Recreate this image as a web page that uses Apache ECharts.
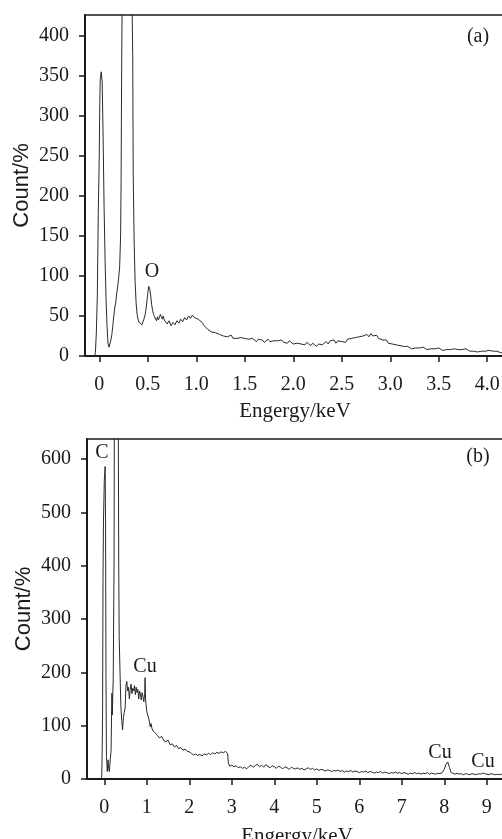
<!DOCTYPE html>
<html>
<head>
<meta charset="utf-8">
<script src="https://cdn.jsdelivr.net/npm/echarts@6/dist/echarts.min.js"></script>
<style>
html,body{margin:0;padding:0;background:#fff;}
#c{width:502px;height:839px;}
</style>
</head>
<body>
<div id="c"></div>
<script>
// ---- Panel (a): energy (keV), count ----
var spectrumA = [
[-0.05,0],[-0.04,4],[-0.03,30],[-0.02,75],[-0.01,180],[0.00,250],[0.005,312],[0.01,345],[0.02,355],[0.03,343],
[0.04,272],[0.05,185],[0.06,120],[0.07,70],[0.08,38],[0.09,16],[0.10,11],[0.11,12],[0.12,20],[0.13,27],
[0.14,38],[0.15,50],[0.16,60],[0.17,67],[0.18,78],[0.19,87],[0.20,98],[0.21,111],[0.22,150],[0.225,215],
[0.23,340],[0.24,520],[0.26,640],[0.29,660],[0.32,600],[0.335,470],[0.345,375],[0.35,228],[0.36,140],[0.37,92],
[0.38,66],[0.39,52],[0.40,46],[0.41,42],[0.42,40],[0.43,42],[0.44,39],[0.45,41],[0.46,46],[0.47,50],
[0.48,57],[0.49,67],[0.50,78],[0.51,87],[0.52,84],[0.53,76],[0.54,64],[0.55,57],[0.56,52],[0.57,49],
[0.58,47],[0.59,44],[0.60,49],[0.61,45],[0.62,47],[0.63,52],[0.64,49],[0.65,46],[0.66,50],[0.67,45],
[0.68,43],[0.70,40],[0.72,44],[0.74,38],[0.76,42],[0.78,39],[0.80,44],[0.82,41],[0.84,46],[0.86,43],
[0.88,48],[0.90,45],[0.92,50],[0.94,47],[0.96,51],[0.98,48],[1.00,50],[1.02,46],[1.04,47],[1.06,42],
[1.08,38],[1.10,36],[1.12,33],[1.14,35],[1.16,30],[1.18,32],[1.20,29],[1.22,30],[1.24,27],[1.26,29],
[1.28,25],[1.30,27],[1.32,24],[1.34,23],[1.36,26],[1.38,22],[1.40,24],[1.42,22],[1.44,20],[1.46,23],
[1.48,21],[1.50,22],[1.52,24],[1.54,21],[1.56,19],[1.58,22],[1.60,20],[1.62,18],[1.64,21],[1.66,19],
[1.68,20],[1.70,17],[1.72,19],[1.74,21],[1.76,18],[1.78,20],[1.80,19],[1.82,17],[1.84,19],[1.86,18],
[1.88,20],[1.90,17],[1.92,18],[1.94,16],[1.96,19],[1.98,17],[2.00,15],[2.02,17],[2.04,16],[2.06,18],
[2.08,15],[2.10,16],[2.12,14],[2.14,17],[2.16,15],[2.18,13],[2.20,16],[2.22,14],[2.24,12],[2.26,15],
[2.28,17],[2.30,14],[2.32,16],[2.34,18],[2.36,15],[2.38,19],[2.40,17],[2.42,20],[2.44,16],[2.46,19],
[2.48,21],[2.50,18],[2.52,20],[2.54,17],[2.56,21],[2.58,19],[2.60,22],[2.62,20],[2.64,23],[2.66,21],
[2.68,24],[2.70,22],[2.72,25],[2.74,23],[2.76,27],[2.78,24],[2.80,28],[2.82,25],[2.84,23],[2.86,26],
[2.88,22],[2.90,24],[2.92,20],[2.94,18],[2.96,20],[2.98,16],[3.00,14],[3.02,15],[3.04,13],[3.06,14],
[3.08,12],[3.10,13],[3.12,11],[3.14,12],[3.16,10],[3.18,12],[3.20,11],[3.22,9],[3.24,11],[3.26,10],
[3.28,12],[3.30,10],[3.32,9],[3.34,11],[3.36,10],[3.38,8],[3.40,10],[3.42,9],[3.44,11],[3.46,9],
[3.48,8],[3.50,10],[3.52,9],[3.54,7],[3.56,9],[3.58,8],[3.60,10],[3.62,8],[3.64,7],[3.66,9],
[3.68,7],[3.70,8],[3.72,6],[3.74,8],[3.76,7],[3.78,9],[3.80,7],[3.82,6],[3.84,8],[3.86,6],
[3.88,7],[3.90,5],[3.92,7],[3.94,6],[3.96,8],[3.98,6],[4.00,5],[4.02,7],[4.04,5],[4.06,6],
[4.08,4],[4.10,6],[4.12,5],[4.14,4],[4.16,5],[4.18,4]
];

// ---- Panel (b): energy (keV), count ----
var spectrumB = [
[-0.08,0],[-0.07,2],[-0.06,4],[-0.05,51],[-0.04,130],[-0.03,380],[-0.02,480],[0.00,560],[0.02,586],[0.03,480],
[0.04,186],[0.05,42],[0.06,30],[0.07,14],[0.09,36],[0.10,20],[0.12,14],[0.14,36],[0.16,54],[0.17,117],
[0.18,161],[0.19,120],[0.20,161],[0.21,186],[0.22,300],[0.23,405],[0.24,800],[0.28,820],[0.32,800],[0.33,650],
[0.34,400],[0.35,267],[0.37,200],[0.39,136],[0.41,110],[0.43,92],[0.45,115],[0.47,125],[0.49,133],[0.51,176],
[0.53,183],[0.55,165],[0.57,172],[0.59,150],[0.61,168],[0.63,178],[0.65,160],[0.67,170],[0.69,165],[0.71,175],
[0.73,158],[0.75,172],[0.77,162],[0.79,168],[0.81,150],[0.83,165],[0.85,160],[0.87,148],[0.89,162],[0.91,155],
[0.93,145],[0.95,160],[0.96,190],[0.97,150],[0.99,148],[1.00,126],[1.02,124],[1.05,112],[1.08,98],[1.10,104],
[1.12,95],[1.15,90],[1.18,93],[1.20,86],[1.25,82],[1.30,77],[1.35,80],[1.40,72],[1.45,70],[1.50,73],
[1.55,64],[1.60,66],[1.65,60],[1.70,63],[1.75,57],[1.80,59],[1.85,54],[1.90,56],[1.95,52],[2.00,51],
[2.05,48],[2.10,45],[2.15,47],[2.20,44],[2.25,46],[2.30,43],[2.35,47],[2.40,45],[2.45,48],[2.50,46],
[2.55,49],[2.60,47],[2.65,50],[2.70,48],[2.75,51],[2.80,49],[2.85,52],[2.90,48],[2.92,30],[2.95,24],
[3.00,26],[3.05,23],[3.10,25],[3.15,21],[3.20,23],[3.25,20],[3.30,22],[3.35,19],[3.40,23],[3.45,26],
[3.50,22],[3.55,25],[3.60,28],[3.65,23],[3.70,26],[3.75,22],[3.80,27],[3.85,24],[3.90,21],[3.95,25],
[4.00,23],[4.05,20],[4.10,24],[4.15,22],[4.20,19],[4.25,23],[4.30,21],[4.35,18],[4.40,22],[4.45,20],
[4.50,19],[4.55,21],[4.60,18],[4.65,20],[4.70,17],[4.75,19],[4.80,21],[4.85,18],[4.90,20],[4.95,17],
[5.00,19],[5.05,16],[5.10,18],[5.15,17],[5.20,15],[5.25,17],[5.30,16],[5.35,14],[5.40,16],[5.45,15],
[5.50,17],[5.55,14],[5.60,16],[5.65,13],[5.70,15],[5.75,14],[5.80,16],[5.85,13],[5.90,15],[5.95,14],
[6.00,12],[6.05,14],[6.10,13],[6.15,15],[6.20,12],[6.25,14],[6.30,13],[6.35,11],[6.40,13],[6.45,12],
[6.50,14],[6.55,11],[6.60,13],[6.65,12],[6.70,10],[6.75,12],[6.80,11],[6.85,13],[6.90,11],[6.95,12],
[7.00,10],[7.05,12],[7.10,11],[7.15,9],[7.20,11],[7.25,10],[7.30,12],[7.35,10],[7.40,11],[7.45,9],
[7.50,11],[7.55,10],[7.60,12],[7.65,9],[7.70,11],[7.75,10],[7.80,9],[7.85,11],[7.90,10],[7.95,12],
[8.00,18],[8.04,28],[8.08,32],[8.12,22],[8.16,12],[8.20,10],[8.25,9],[8.30,11],[8.35,9],[8.40,10],
[8.45,8],[8.50,10],[8.55,9],[8.60,8],[8.65,10],[8.70,9],[8.75,8],[8.80,10],[8.85,9],[8.90,11],
[8.95,10],[9.00,9],[9.05,8],[9.10,10],[9.15,9],[9.20,8],[9.25,9],[9.30,8],[9.35,9],[9.40,8],[9.45,8]
];

var ticksXA = [0, 0.5, 1.0, 1.5, 2.0, 2.5, 3.0, 3.5, 4.0];
var ticksYA = [0, 50, 100, 150, 200, 250, 300, 350, 400];
var ticksXB = [0, 1, 2, 3, 4, 5, 6, 7, 8, 9];
var ticksYB = [0, 100, 200, 300, 400, 500, 600];

var SERIF = "'Liberation Serif','Times New Roman',serif";
var SANS = "'Liberation Sans',Arial,sans-serif";
var INK = '#1a1a1a';

function xAxisCfg(gridIndex, min, max, ticks, decimals, gap) {
  return {
    type: 'value', gridIndex: gridIndex, min: min, max: max,
    name: 'Engergy/keV', nameLocation: 'middle', nameGap: gap,
    nameTextStyle: {fontFamily: SERIF, fontSize: 21, color: INK},
    axisLine: {show: true, onZero: false, lineStyle: {color: INK, width: 2}},
    axisTick: {show: true, inside: false, length: 6, customValues: ticks, lineStyle: {color: INK, width: 1.5}},
    axisLabel: {show: true, customValues: ticks, margin: 19, fontFamily: SERIF, fontSize: 20, color: INK,
      formatter: function (v) { return decimals ? v.toFixed(1).replace(/^0\.0$/, '0') : String(v); }},
    splitLine: {show: false}
  };
}
function yAxisCfg(gridIndex, max, ticks) {
  return {
    type: 'value', gridIndex: gridIndex, min: 0, max: max,
    name: 'Count/%', nameLocation: 'middle', nameGap: 52, nameRotate: 90, nameMoveOverlap: false,
    nameTextStyle: {fontFamily: SANS, fontSize: 22, color: INK},
    axisLine: {show: true, onZero: false, lineStyle: {color: INK, width: 2}},
    axisTick: {show: true, inside: false, length: 6, customValues: ticks, lineStyle: {color: INK, width: 1.5}},
    axisLabel: {show: true, customValues: ticks, margin: 16, fontFamily: SERIF, fontSize: 20, color: INK},
    splitLine: {show: false}
  };
}

var chart = echarts.init(document.getElementById('c'), null, {renderer: 'canvas'});
chart.setOption({
  animation: false,
  backgroundColor: '#fff',
  grid: [
    {left: 85, top: 15, width: 420, height: 341, show: true, borderColor: INK, borderWidth: 1.5,
      backgroundColor: 'transparent', outerBoundsMode: 'none', containLabel: false},
    {left: 87, top: 439, width: 420, height: 340, show: true, borderColor: INK, borderWidth: 1.5,
      backgroundColor: 'transparent', outerBoundsMode: 'none', containLabel: false}
  ],
  xAxis: [
    xAxisCfg(0, -0.147, 4.183, ticksXA, true, 45),
    xAxisCfg(1, -0.407, 9.475, ticksXB, false, 47)
  ],
  yAxis: [
    yAxisCfg(0, 426, ticksYA),
    yAxisCfg(1, 637.5, ticksYB)
  ],
  series: [
    {type: 'line', xAxisIndex: 0, yAxisIndex: 0, data: spectrumA, showSymbol: false, clip: true,
      lineStyle: {color: '#2a2a2a', width: 1}},
    {type: 'line', xAxisIndex: 1, yAxisIndex: 1, data: spectrumB, showSymbol: false, clip: true,
      lineStyle: {color: '#2a2a2a', width: 1}}
  ],
  graphic: [
    {type: 'text', x: 478, y: 37, style: {text: '(a)', font: '20px ' + SERIF, fill: INK, align: 'center', verticalAlign: 'middle'}},
    {type: 'text', x: 478, y: 457, style: {text: '(b)', font: '20px ' + SERIF, fill: INK, align: 'center', verticalAlign: 'middle'}},
    {type: 'text', x: 152, y: 272, style: {text: 'O', font: '20px ' + SERIF, fill: INK, align: 'center', verticalAlign: 'middle'}},
    {type: 'text', x: 102, y: 453, style: {text: 'C', font: '20px ' + SERIF, fill: INK, align: 'center', verticalAlign: 'middle'}},
    {type: 'text', x: 145, y: 667, style: {text: 'Cu', font: '20px ' + SERIF, fill: INK, align: 'center', verticalAlign: 'middle'}},
    {type: 'text', x: 440, y: 753, style: {text: 'Cu', font: '20px ' + SERIF, fill: INK, align: 'center', verticalAlign: 'middle'}},
    {type: 'text', x: 483, y: 762, style: {text: 'Cu', font: '20px ' + SERIF, fill: INK, align: 'center', verticalAlign: 'middle'}}
  ]
});
</script>
</body>
</html>
